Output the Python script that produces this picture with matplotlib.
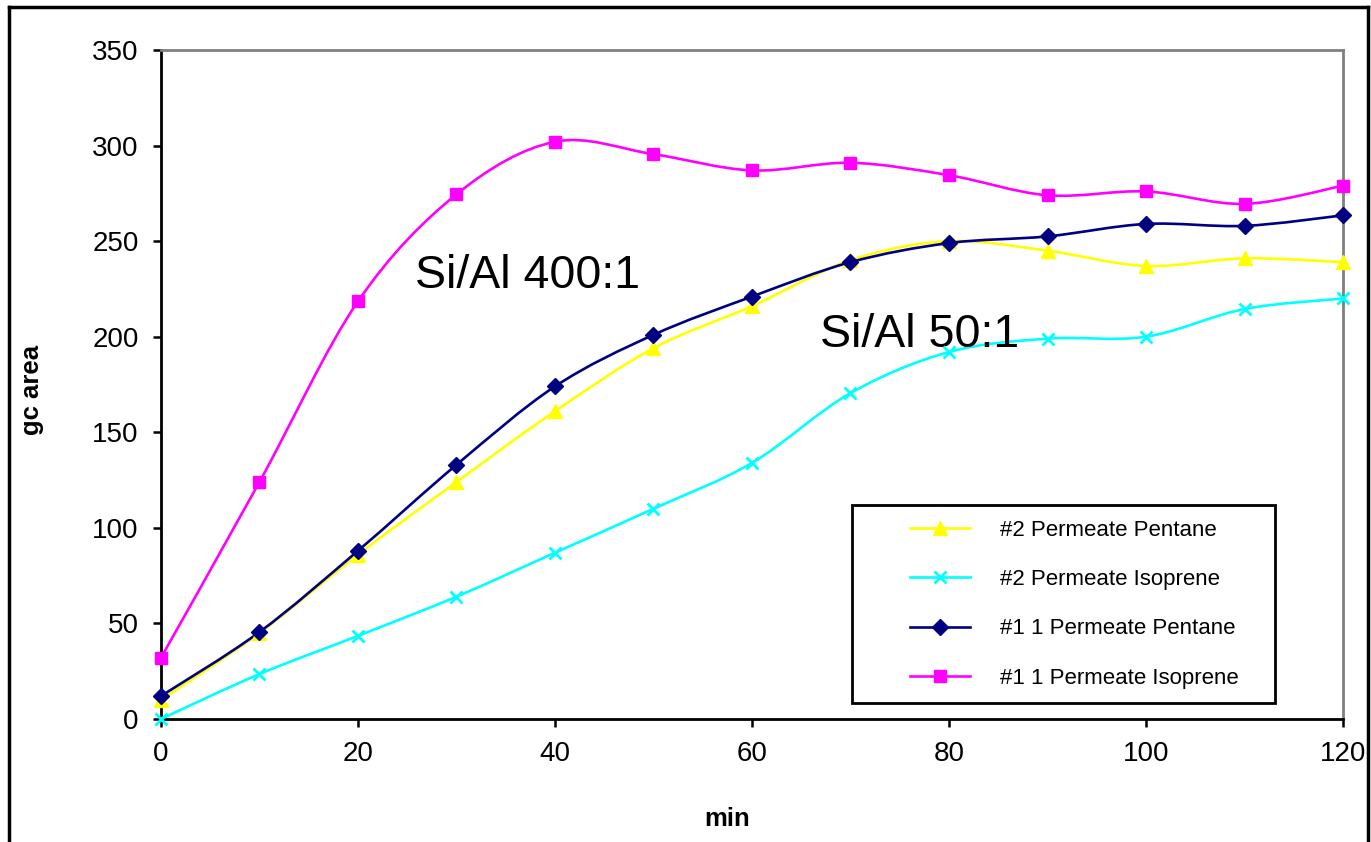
import numpy as np
import matplotlib
matplotlib.use("Agg")
import matplotlib.pyplot as plt
from matplotlib.path import Path
from matplotlib.patches import PathPatch, Rectangle
from matplotlib.lines import Line2D

plt.rcParams['font.family'] = ['Liberation Sans', 'DejaVu Sans']

# data
minutes = [0, 10, 20, 30, 40, 50, 60, 70, 80, 90, 100, 110, 120]
pent2 = [10, 45, 86, 124, 161, 194, 216, 240, 250, 245, 237, 241, 239]
iso2 = [0, 23.5, 43.5, 64, 87, 110, 134, 170.5, 192, 199, 200, 214.5, 220]
pent1 = [12, 45.5, 88, 133, 174, 201, 221, 239, 249, 252.5, 259, 258, 263.5]
iso1 = [32, 124, 218.5, 274.5, 302, 295.5, 287, 291, 284.5, 274, 276, 269.5, 279]

labels = ['#2 Permeate Pentane', '#2 Permeate Isoprene',
          '#1 1 Permeate Pentane', '#1 1 Permeate Isoprene']
colors = ['#FFFF00', '#00FFFF', '#000080', '#FF00FF']
markers = ['^', 'x', 'D', 's']
msizes = [10.5, 9, 8.5, 8.5]


def smooth_path(x, y):
    # excel-style smoothed line: cubic bezier through every point
    p = np.column_stack([x, y]).astype(float)
    verts = [p[0]]
    codes = [Path.MOVETO]
    n = len(p)
    for i in range(n - 1):
        p0 = p[i - 1] if i > 0 else p[i]
        p3 = p[i + 2] if i + 2 < n else p[i + 1]
        c1 = p[i] + (p[i + 1] - p0) / 6.0
        c2 = p[i + 1] - (p3 - p[i]) / 6.0
        verts += [c1, c2, p[i + 1]]
        codes += [Path.CURVE4] * 3
    return Path(verts, codes)


fig = plt.figure(figsize=(13.71, 8.42), dpi=100)
ax = fig.add_axes([0.1174, 0.1461, 0.8622, 0.7945])

series = [pent2, iso2, pent1, iso1]
handles = []
for ys, c, m, ms, lab in zip(series, colors, markers, msizes, labels):
    patch = PathPatch(smooth_path(minutes, ys), facecolor='none',
                      edgecolor=c, lw=1.9, clip_on=False, zorder=3)
    ax.add_patch(patch)
    mew = 2 if m == 'x' else 1
    ax.plot(minutes, ys, linestyle='none', marker=m, color=c, ms=ms,
            mew=mew, clip_on=False, zorder=4)
    handles.append(Line2D([], [], color=c, lw=1.9, marker=m, ms=ms, mew=mew))

ax.set_xlim(0, 120)
ax.set_ylim(0, 350)
ax.set_xticks(range(0, 121, 20))
ax.set_yticks(range(0, 351, 50))
ax.tick_params(direction='out', length=6, width=1.8, labelsize=20, pad=10)
for s in ['left', 'bottom']:
    ax.spines[s].set_linewidth(2)
    ax.spines[s].set_color('black')
for s in ['top', 'right']:
    ax.spines[s].set_linewidth(2)
    ax.spines[s].set_color('#808080')

ax.set_xlabel('min', fontsize=18.5, fontweight='bold')
ax.xaxis.set_label_coords(0.479, -0.132)
ax.set_ylabel('gc area', fontsize=18.5, fontweight='bold')
ax.yaxis.set_label_coords(-0.099, 0.492)

ax.text(25.8, 232, 'Si/Al 400:1', fontsize=33.5, va='center', ha='left')
ax.text(66.9, 201, 'Si/Al 50:1', fontsize=33.5, va='center', ha='left')

# legend box drawn separately so the entries can sit inset like the original
ax.add_patch(Rectangle((0.585, 0.0239), 0.3575, 0.296, transform=ax.transAxes,
                       facecolor='white', edgecolor='black', lw=2,
                       zorder=5, clip_on=False))
leg = ax.legend(handles, labels, loc='upper left',
                bbox_to_anchor=(0.6337, 0.2975), borderaxespad=0,
                borderpad=0, fontsize=16, handlelength=2.7,
                handletextpad=1.35, labelspacing=1.27, frameon=False)
leg.set_zorder(6)

# outer chart frame (open at the bottom)
W, H = 1371, 842
for xs, ys in [((9, 9), (0, H - 7)), ((9, 1368), (H - 7, H - 7)),
               ((1368, 1368), (H - 7, 0))]:
    fig.add_artist(Line2D([x / W for x in xs], [y / H for y in ys],
                          color='black', lw=2.5, transform=fig.transFigure))

fig.savefig('out.png', dpi=100)
